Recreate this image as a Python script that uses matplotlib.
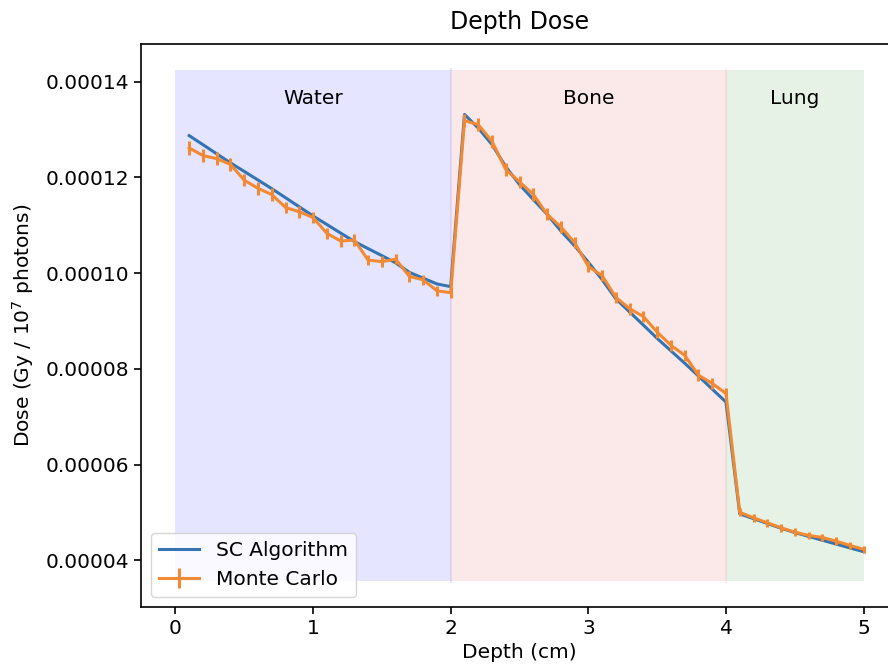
import numpy as np
import matplotlib.pyplot as plt

# depth positions (cm)
depth = [0.1, 0.2, 0.3, 0.4, 0.5, 0.6, 0.7, 0.8, 0.9, 1.0,
         1.1, 1.2, 1.3, 1.4, 1.5, 1.6, 1.7, 1.8, 1.9, 2.0,
         2.1, 2.2, 2.3, 2.4, 2.5, 2.6, 2.7, 2.8, 2.9, 3.0,
         3.1, 3.2, 3.3, 3.4, 3.5, 3.6, 3.7, 3.8, 3.9, 4.0,
         4.1, 4.2, 4.3, 4.4, 4.5, 4.6, 4.7, 4.8, 4.9, 5.0]

# superposition-convolution dose
sc_dose = [1.2871e-4, 1.2682e-4, 1.2491e-4, 1.2301e-4, 1.2123e-4, 1.1944e-4, 1.1763e-4, 1.1574e-4, 1.1383e-4, 1.1193e-4,
           1.1015e-4, 1.0836e-4, 1.0659e-4, 1.0511e-4, 1.0364e-4, 1.0213e-4, 1.0015e-4, 0.9894e-4, 0.9773e-4, 0.9717e-4,
           1.3314e-4, 1.3029e-4, 1.2684e-4, 1.2222e-4, 1.1848e-4, 1.1536e-4, 1.1229e-4, 1.0881e-4, 1.0570e-4, 1.0227e-4,
           0.9863e-4, 0.9462e-4, 0.9187e-4, 0.8913e-4, 0.8636e-4, 0.8376e-4, 0.8117e-4, 0.7850e-4, 0.7576e-4, 0.7306e-4,
           4.97e-5, 4.87e-5, 4.77e-5, 4.67e-5, 4.58e-5, 4.50e-5, 4.42e-5, 4.34e-5, 4.26e-5, 4.18e-5]

# monte carlo dose + error
mc_dose = [1.2613e-4, 1.2455e-4, 1.2390e-4, 1.2270e-4, 1.1940e-4, 1.1770e-4, 1.1640e-4, 1.1370e-4, 1.1280e-4, 1.1160e-4,
           1.0830e-4, 1.0670e-4, 1.0690e-4, 1.0270e-4, 1.0240e-4, 1.0290e-4, 0.9930e-4, 0.9860e-4, 0.9630e-4, 0.9590e-4,
           1.3183e-4, 1.3100e-4, 1.2753e-4, 1.2164e-4, 1.1906e-4, 1.1644e-4, 1.1229e-4, 1.0965e-4, 1.0638e-4, 1.0139e-4,
           0.9946e-4, 0.9495e-4, 0.9254e-4, 0.9094e-4, 0.8767e-4, 0.8491e-4, 0.8283e-4, 0.7867e-4, 0.7694e-4, 0.7486e-4,
           5.004e-5, 4.888e-5, 4.784e-5, 4.680e-5, 4.588e-5, 4.520e-5, 4.478e-5, 4.401e-5, 4.312e-5, 4.229e-5]
mc_err = [1.4e-6, 1.3e-6, 1.3e-6, 1.3e-6, 1.3e-6, 1.3e-6, 1.3e-6, 1.2e-6, 1.2e-6, 1.2e-6,
          1.2e-6, 1.2e-6, 1.2e-6, 1.1e-6, 1.1e-6, 1.1e-6, 1.1e-6, 1.1e-6, 1.1e-6, 1.1e-6,
          1.3e-6, 1.3e-6, 1.3e-6, 1.3e-6, 1.3e-6, 1.3e-6, 1.2e-6, 1.2e-6, 1.2e-6, 1.2e-6,
          1.2e-6, 1.2e-6, 1.2e-6, 1.2e-6, 1.2e-6, 1.2e-6, 1.2e-6, 1.2e-6, 1.2e-6, 1.2e-6,
          0.8e-6, 0.8e-6, 0.8e-6, 0.8e-6, 0.8e-6, 0.8e-6, 0.8e-6, 0.8e-6, 0.8e-6, 0.8e-6]

# slabs
regions = ["Water", "Bone", "Lung"]
region_x = [(0, 2), (2, 4), (4, 5)]
region_col = ["blue", "#e0302a", "green"]
shade_lo, shade_hi = 3.56e-5, 1.425e-4
label_y = 1.365e-4

fs = 14.5
fig = plt.figure(figsize=(8.88, 6.69), dpi=100)
ax = fig.add_axes([0.1588, 0.0927, 0.8525, 0.8415])

for name, (x0, x1), c in zip(regions, region_x, region_col):
    ax.fill_between([x0, x1], shade_lo, shade_hi, color=c, alpha=0.1, lw=0)
    ax.axvline(x1, ymin=0.045, ymax=0.955, color=c, alpha=0.08, lw=1.5) if x1 < 5 else None
    ax.text((x0 + x1) / 2, label_y, name, ha="center", va="center", fontsize=fs)

ax.plot(depth, sc_dose, color="#3574b2", lw=2.2, label="SC Algorithm")
ax.errorbar(depth, mc_dose, yerr=mc_err, color="#f28a33", lw=2.2, elinewidth=2.2,
            label="Monte Carlo")

ax.set_title("Depth Dose", fontsize=17, pad=11)
ax.set_xlabel("Depth (cm)", fontsize=fs)
ax.set_ylabel("Dose (Gy / 10$^7$ photons)", fontsize=fs, labelpad=7)
ax.tick_params(labelsize=fs, width=1.2, length=5)
for s in ax.spines.values():
    s.set_linewidth(1.2)
ax.legend(loc="lower left", fontsize=fs)

fig.savefig("out.png", dpi=100)
